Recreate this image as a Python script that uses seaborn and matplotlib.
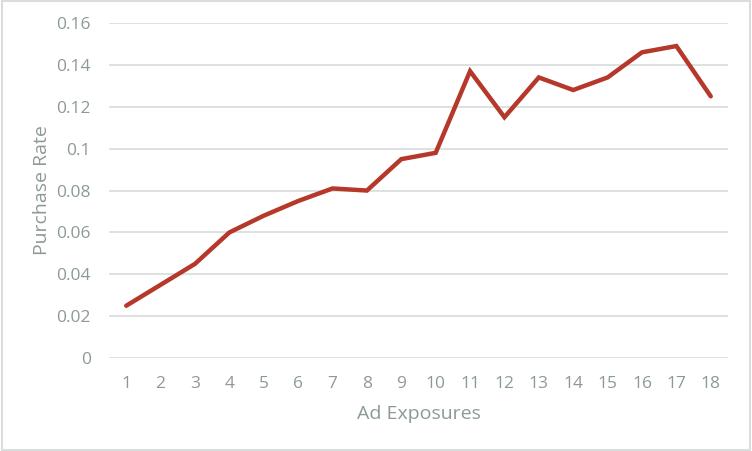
import numpy as np
import pandas as pd
import matplotlib
matplotlib.use('Agg')
import matplotlib.pyplot as plt
import seaborn as sns

# data
exposures = list(range(1, 19))
purchase_rate = [0.025, 0.035, 0.045, 0.060, 0.068, 0.075, 0.081, 0.080, 0.095,
                 0.098, 0.137, 0.115, 0.134, 0.128, 0.134, 0.146, 0.149, 0.125]
y_ticks = [0, 0.02, 0.04, 0.06, 0.08, 0.1, 0.12, 0.14, 0.16]
y_labels = ['0', '0.02', '0.04', '0.06', '0.08', '0.1', '0.12', '0.14', '0.16']

df = pd.DataFrame({'Ad Exposures': exposures, 'Purchase Rate': purchase_rate})

sns.set_theme(style='white')
plt.rcParams['font.family'] = ['Open Sans', 'DejaVu Sans']
text_col = '#8c9a97'
grid_col = '#dde2e1'

fig = plt.figure(figsize=(7.52, 4.51), dpi=100)
ax = fig.add_axes([0.145, 0.206, 0.823, 0.743])

sns.lineplot(data=df, x='Ad Exposures', y='Purchase Rate', ax=ax,
             color='#b5382a', linewidth=3.2, solid_joinstyle='miter', zorder=3)

ax.set_xlim(0.5, 18.5)
ax.set_ylim(0, 0.16)
ax.set_xticks(exposures)
ax.set_xticklabels([str(e) for e in exposures])
ax.set_yticks(y_ticks)
ax.set_yticklabels(y_labels)
ax.yaxis.grid(True, color=grid_col, linewidth=1.4)
ax.set_axisbelow(True)
for s in ax.spines.values():
    s.set_visible(False)
ax.tick_params(axis='both', length=0, labelsize=12.5, colors=text_col)
ax.tick_params(axis='x', pad=13)
ax.tick_params(axis='y', pad=13)
ax.set_xlabel('Ad Exposures', fontsize=14, color=text_col, labelpad=9)
ax.set_ylabel('Purchase Rate', fontsize=14, color=text_col, labelpad=4)

fig.patches.append(plt.Rectangle((0.002, 0.003), 0.996, 0.994, transform=fig.transFigure,
                                 fill=False, edgecolor='#d9dedd', linewidth=1.5))

fig.savefig('out.png', dpi=100)
